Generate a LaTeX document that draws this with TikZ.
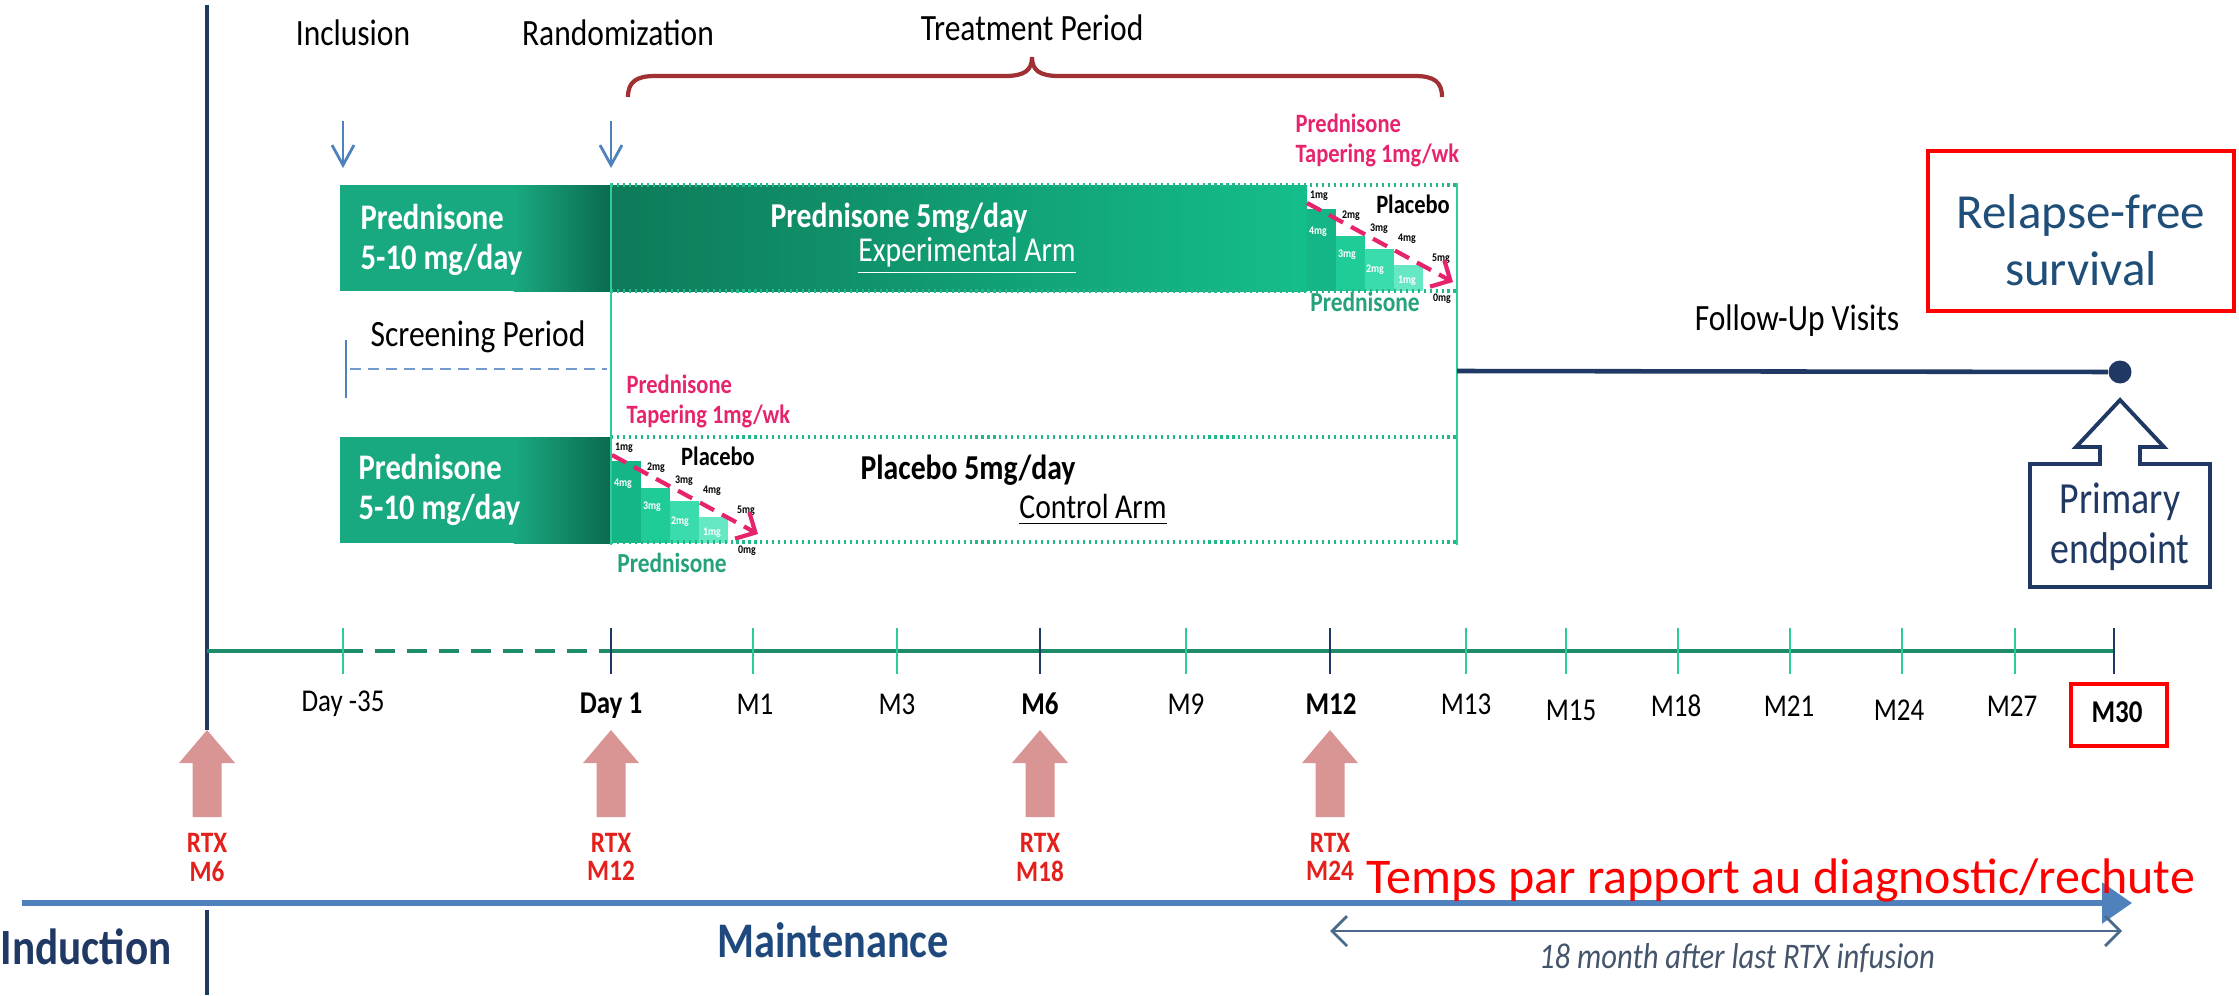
\documentclass[tikz,border=0pt]{standalone}
\usepackage{fontspec}
\setmainfont{Carlito}[FakeStretch=0.85]
\newfontfamily\plainf{Carlito}
\usetikzlibrary{arrows.meta}
\newcommand\fpx[1]{\fontsize{\fpeval{#1*0.2845*1.059}pt}{\fpeval{#1*0.2845*1.2}pt}\selectfont}
\newcommand\fpp[1]{\fontsize{\fpeval{#1*0.2845}pt}{\fpeval{#1*0.2845*1.15}pt}\selectfont}
\definecolor{navy}{HTML}{1F3864}
\definecolor{navyb}{HTML}{1F497D}
\definecolor{steel}{HTML}{4F81BD}
\definecolor{tlg}{HTML}{1E8C6B}
\definecolor{tickg}{HTML}{2ECC9A}
\definecolor{teal1}{HTML}{19A980}
\definecolor{dkg}{HTML}{0B6A4F}
\definecolor{dkg2}{HTML}{0E7A5A}
\definecolor{lgt}{HTML}{14BE8B}
\definecolor{st1}{HTML}{14B586}
\definecolor{st2}{HTML}{1FCC98}
\definecolor{st3}{HTML}{3ADCAD}
\definecolor{st4}{HTML}{66E8C4}
\definecolor{dotg}{HTML}{22B88A}
\definecolor{pinkc}{HTML}{E6246E}
\definecolor{rtxc}{HTML}{D99594}
\definecolor{redt}{HTML}{E3201B}
\definecolor{bracec}{HTML}{A03033}
\definecolor{grayb}{HTML}{44546A}
\definecolor{grayarr}{HTML}{4A6A8C}
\definecolor{prgreen}{HTML}{25A27C}
\definecolor{rfsc}{HTML}{1F4E79}
\newcommand\taper[2]{%
\begin{scope}[shift={(#1,#2)}]
 \fill[st1] (0,24) rectangle (29,106);
 \fill[st2] (29,51) rectangle (58,106);
 \fill[st3] (58,64) rectangle (87,106);
 \fill[st4] (87,80) rectangle (116,106);
 \node[mgw] at (11,47) {4mg};
 \node[mgw] at (40,70) {3mg};
 \node[mgw] at (68,85) {2mg};
 \node[mgw] at (100,96) {1mg};
 \node[mgb] at (12,11) {1mg};
 \node[mgb] at (44,31) {2mg};
 \node[mgb] at (72,44) {3mg};
 \node[mgb] at (100,54) {4mg};
 \node[mgb] at (134,74) {5mg};
 \node[mgb] at (135,114) {0mg};
 \node[plc] at (106,19) {Placebo};
 \coordinate (pa) at (0,18);
 \coordinate (pb) at (146,97);
 \draw[pinkarr] (pa) -- (pb);
\end{scope}}
\begin{document}
\begin{tikzpicture}[x=0.1mm,y=-0.1mm,
  txt/.style={inner sep=0, font=\fpx{35}},
  wb/.style={inner sep=0, text=white, font=\fpx{34}\bfseries, align=left},
  armt/.style={inner sep=0, font=\fpx{33}},
  tl/.style={inner sep=0, font=\fpx{30}},
  tlb/.style={inner sep=0, font=\fpx{30}\bfseries},
  rtx/.style={inner sep=0, text=redt, font=\fpx{28}\bfseries},
  mgw/.style={inner sep=0, text=white, font=\fpx{11}\bfseries},
  mgb/.style={inner sep=0, text=black, font=\fpx{11}\bfseries},
  plc/.style={inner sep=0, text=black, font=\fpx{25}\bfseries},
  pinkt/.style={inner sep=0, text=pinkc, font=\fpx{25}\bfseries, align=left},
  grt/.style={inner sep=0, text=prgreen, font=\fpx{26}\bfseries},
  pinkarr/.style={pinkc, line width=1.2pt, dash pattern=on 1.6mm off 0.9mm, -{Straight Barb[length=1.5mm,width=3mm]}},
  bluearr/.style={steel, line width=0.8pt, -{Straight Barb[length=2mm,width=2.2mm]}},
  dotl/.style={dotg, line width=1.3pt, dash pattern=on 0.6pt off 1.1pt},
  vline/.style={tickg, line width=0.8pt},
  tline/.style={tlg, line width=1.3pt},
]
\useasboundingbox (0,0) rectangle (2239,995);
% left vertical line
\draw[navy, line width=1pt] (207,5) -- (207,730);
\draw[navy, line width=1pt] (207,910) -- (207,995);
% top labels
\node[txt] (incl) at (353,33) {Inclusion};
\node[txt] (rand) at (618,33) {Randomization};
\node[txt] (treat) at (1032,28) {Treatment Period};
\coordinate (inA) at (343,121); \coordinate (inB) at (343,168);
\coordinate (raA) at (611,121); \coordinate (raB) at (611,168);
\draw[bluearr] (inA) -- (inB);
\draw[bluearr] (raA) -- (raB);
% brace
\draw[bracec, line width=1.2pt] (628,97) .. controls (628,82) and (636,76) .. (655,76) -- (1005,76) .. controls (1025,76) and (1032,70) .. (1032,57) .. controls (1032,70) and (1039,76) .. (1059,76) -- (1415,76) .. controls (1434,76) and (1442,82) .. (1442,97);
% experimental arm row
\fill[teal1] (340,185) rectangle (515,291);
\shade[left color=teal1, right color=dkg] (514,185) rectangle (611,291);
\shade[left color=dkg2, right color=lgt] (611,185) rectangle (1307,291);
\taper{1307}{185}
\node[wb, anchor=west] (exl) at (360,240) {Prednisone\\5-10 mg/day};
\node[armt, text=white, font=\fpx{33}\bfseries] (exa) at (899,218) {Prednisone 5mg/day};
\node[armt, text=white] (exb) at (967,256) {\underline{Experimental Arm}};
\node[pinkt, anchor=west] (ptx) at (1295,140) {Prednisone\\Tapering 1mg/wk};
\node[grt] (gpx) at (1365,302) {Prednisone};
% control arm row
\fill[teal1] (340,437) rectangle (515,543);
\shade[left color=teal1, right color=dkg] (514,437) rectangle (611,543);
\taper{612}{437}
\node[wb, anchor=west] (cnl) at (358,490) {Prednisone\\5-10 mg/day};
\node[armt, font=\fpx{33}\bfseries] (cna) at (968,470) {Placebo 5mg/day};
\node[armt] (cnb) at (1093,510) {\underline{Control Arm}};
\node[pinkt, anchor=west] (ptc) at (626,401) {Prednisone\\Tapering 1mg/wk};
\node[grt] (gpc) at (672,563) {Prednisone};
% dotted and vertical lines
\draw[dotl] (611,185) -- (1457,185);
\draw[dotl] (611,291) -- (1457,291);
\draw[dotl] (611,437) -- (1457,437);
\draw[dotl] (611,542) -- (1457,542);
\draw[vline] (611,183) -- (611,545);
\draw[vline] (1457,183) -- (1457,545);
% screening
\node[txt] (scr) at (478,337) {Screening Period};
\draw[steel!80, line width=0.8pt, dash pattern=on 1.1mm off 0.7mm] (350,369) -- (607,369);
\draw[steel, line width=0.7pt] (346,340) -- (346,398);
% follow-up
\node[txt] (fu) at (1797,321) {Follow-Up Visits};
\coordinate (fuS) at (1457,371);
\node[circle, fill=navy, minimum size=2.3mm, inner sep=0] (dot) at (2120,372) {};
\draw[navy, line width=1.3pt] (fuS) -- (dot);
% primary endpoint callout
\draw[navy, line width=1.1pt, fill=white] (2030,464) -- (2100,464) -- (2100,447) -- (2076,447) -- (2120,400) -- (2164,447) -- (2140,447) -- (2140,464) -- (2210,464) -- (2210,587) -- (2030,587) -- cycle;
\node[inner sep=0, text=navy, font=\fpx{42}, align=center] (pe) at (2120,527) {Primary\\endpoint};
% relapse-free survival box
\node[draw=red, line width=1.3pt, minimum width=30.6mm, minimum height=16.0mm, inner sep=0] (rfs) at (2081,231) {};
\node[inner sep=0, text=rfsc, font=\plainf\fpp{49}, align=center] (rfst) at (2081,240) {Relapse-free\\survival};
% timeline
\coordinate (tl0) at (207,651);
\coordinate (tlA) at (343,651);
\coordinate (tlB) at (611,651);
\coordinate (tlE) at (2114,651);
\draw[tline] (tl0) -- (tlA);
\draw[tline, dash pattern=on 2mm off 1.2mm] (tlA) -- (tlB);
\draw[tline] (tlB) -- (tlE);
\foreach \x in {343,753,897,1186,1466,1566,1678,1790,1902,2015}
  \draw[tickg, line width=0.8pt] (\x,628) -- (\x,674);
\foreach \x in {611,1040,1330,2114}
  \draw[navy, line width=0.8pt] (\x,628) -- (\x,674);
\node[tl] (lm35) at (343,704) {Day -35};
\node[tlb] (ld1) at (611,706) {Day 1};
\node[tl] (lm1) at (755,704) {M1};
\node[tl] (lm3) at (897,704) {M3};
\node[tlb] (lm6) at (1040,704) {M6};
\node[tl] (lm9) at (1186,704) {M9};
\node[tlb] (lm12) at (1331,704) {M12};
\node[tl] (lm13) at (1466,704) {M13};
\node[tl] (lm15) at (1571,710) {M15};
\node[tl] (lm18) at (1676,706) {M18};
\node[tl] (lm21) at (1789,706) {M21};
\node[tl] (lm24) at (1899,710) {M24};
\node[tl] (lm27) at (2012,706) {M27};
\node[draw=red, line width=1.3pt, minimum width=9.6mm, minimum height=6.2mm, inner sep=0] (m30box) at (2119,715) {};
\node[tlb] (lm30) at (2117,712) {M30};
% RTX arrows
\foreach \x/\m in {207/M6,611/M12,1040/M18,1330/M24}{
  \fill[rtxc] (\x-14.5,817) -- (\x-14.5,763) -- (\x-28,763) -- (\x,730) -- (\x+28,763) -- (\x+14.5,763) -- (\x+14.5,817) -- cycle;
  \node[rtx] at (\x,843) {RTX};
  \node[rtx] at (\x,871) {\m};
}
% bottom arrow
\coordinate (ba0) at (22,903);
\coordinate (ba1) at (2132,903);
\draw[steel, line width=1.6pt, -{Triangle[length=3mm,width=4mm]}] (ba0) -- (ba1);
\node[anchor=base west, inner sep=0, text=red, font=\plainf\fpp{50}] (temps) at (1366,893) {Temps par rapport au diagnostic/rechute};
\node[inner sep=0, text=navy, font=\fpx{48}\bfseries] (ind) at (86,947) {Induction};
\node[inner sep=0, text=navyb, font=\fpx{47}\bfseries] (mnt) at (833,940) {Maintenance};
\coordinate (dA) at (1330,931);
\coordinate (dB) at (2122,931);
\draw[grayarr, line width=0.8pt, {Straight Barb[length=1.5mm,width=3mm]}-{Straight Barb[length=1.5mm,width=3mm]}] (dA) -- (dB);
\node[inner sep=0, text=grayb, font=\fpx{34}\itshape] (m18) at (1737,958) {18 month after last RTX infusion};
\end{tikzpicture}
\end{document}
